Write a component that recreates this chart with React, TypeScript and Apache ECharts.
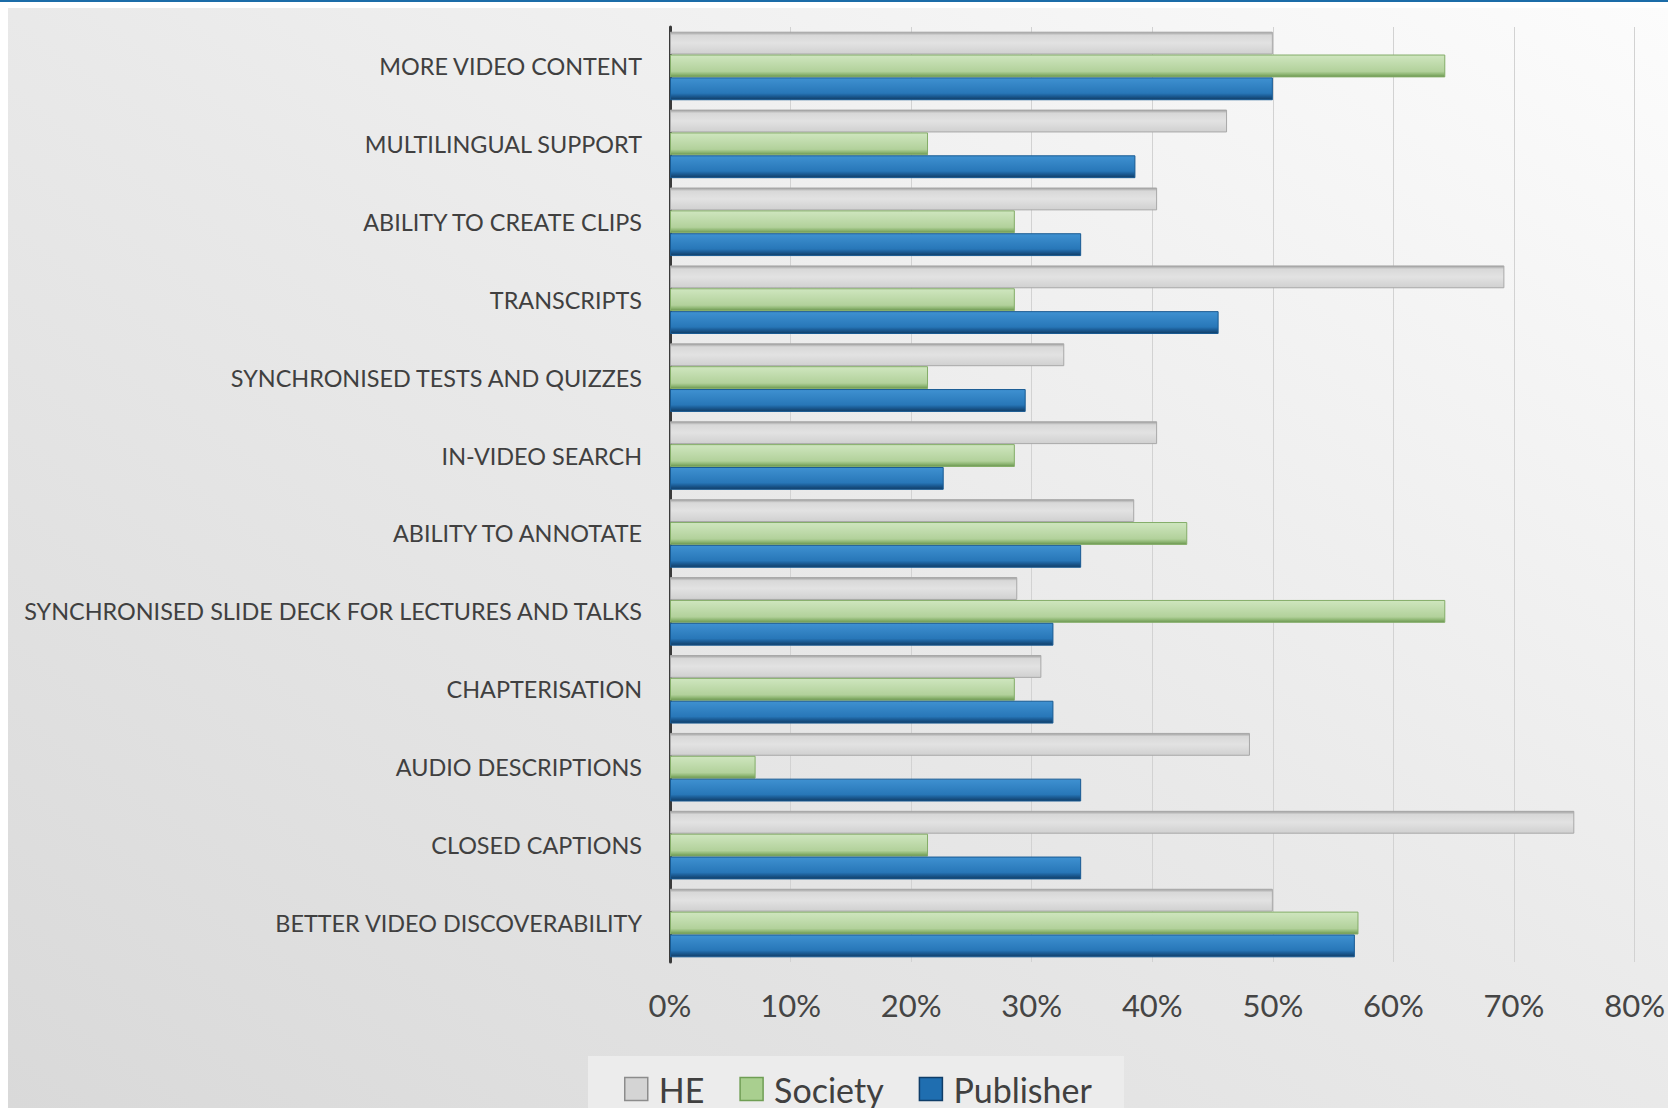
import React, { useEffect, useRef } from "react";
import * as echarts from "echarts";

const categories = [
  "MORE VIDEO CONTENT",
  "MULTILINGUAL SUPPORT",
  "ABILITY TO CREATE CLIPS",
  "TRANSCRIPTS",
  "SYNCHRONISED TESTS AND QUIZZES",
  "IN-VIDEO SEARCH",
  "ABILITY TO ANNOTATE",
  "SYNCHRONISED SLIDE DECK FOR LECTURES AND TALKS",
  "CHAPTERISATION",
  "AUDIO DESCRIPTIONS",
  "CLOSED CAPTIONS",
  "BETTER VIDEO DISCOVERABILITY",
];

const heValues = [50.0, 46.2, 40.4, 69.2, 32.7, 40.4, 38.5, 28.8, 30.8, 48.1, 75.0, 50.0];
const societyValues = [64.3, 21.4, 28.6, 28.6, 21.4, 28.6, 42.9, 64.3, 28.6, 7.1, 21.4, 57.1];
const publisherValues = [50.0, 38.6, 34.1, 45.5, 29.5, 22.7, 34.1, 31.8, 31.8, 34.1, 34.1, 56.8];

const xTicks = { min: 0, max: 80, interval: 10 };

const FONT = "Lato, 'Open Sans', sans-serif";

function vGrad(stops: [number, string][]) {
  return new echarts.graphic.LinearGradient(
    0,
    0,
    0,
    1,
    stops.map(([offset, color]) => ({ offset, color }))
  );
}

export default function App() {
  const ref = useRef<HTMLDivElement>(null);

  useEffect(() => {
    if (!ref.current) return;
    const chart = echarts.init(ref.current, null, { renderer: "svg" });

    const heStyle = {
      color: vGrad([
        [0, "#9e9e9e"],
        [0.14, "#d8d8d8"],
        [0.5, "#e2e2e2"],
        [1, "#d0d0d0"],
      ]),
      borderColor: "#a8a8a8",
      borderWidth: 1,
    };
    const socStyle = {
      color: vGrad([
        [0, "#cfe6bf"],
        [0.75, "#b2d19b"],
        [0.88, "#8fb774"],
        [1, "#6a944f"],
      ]),
      borderColor: "#84ad68",
      borderWidth: 1,
    };
    const pubStyle = {
      color: vGrad([
        [0, "#3f91d1"],
        [0.7, "#2877b8"],
        [0.82, "#1c5e98"],
        [1, "#113d66"],
      ]),
      borderColor: "#185a92",
      borderWidth: 1,
    };

    chart.setOption({
      animation: false,
      backgroundColor: "#ffffff",
      graphic: [
        {
          type: "rect",
          z: -100,
          silent: true,
          shape: { x: 0, y: 0, width: 1668, height: 2 },
          style: { fill: "#1b6ca8" },
        },
        {
          type: "rect",
          z: -100,
          silent: true,
          shape: { x: 8, y: 8, width: 1660, height: 1100 },
          style: {
            fill: new echarts.graphic.LinearGradient(1, 0, 0, 1, [
              { offset: 0, color: "#fcfcfc" },
              { offset: 0.5, color: "#e9e9e9" },
              { offset: 1, color: "#d9d9d9" },
            ]),
          },
        },
        {
          type: "rect",
          z: -99,
          silent: true,
          shape: { x: 588, y: 1056, width: 536, height: 60 },
          style: { fill: "#ececec" },
        },
      ],
      grid: { left: 670, right: 30, top: 27, bottom: 146, containLabel: false },
      legend: {
        left: 619,
        top: 1066,
        itemWidth: 23,
        itemHeight: 23,
        itemGap: 35,
        icon: "rect",
        textStyle: {
          fontFamily: FONT,
          fontSize: 34,
          color: "#404040",
          lineHeight: 36,
          padding: [0, 0, 0, 6],
        },
        data: [
          { name: "HE", itemStyle: { color: "#d4d4d4", borderColor: "#8c8c8c", borderWidth: 1.5 } },
          { name: "Society", itemStyle: { color: "#a9cf8f", borderColor: "#6f9e54", borderWidth: 1.5 } },
          { name: "Publisher", itemStyle: { color: "#1f6eb0", borderColor: "#0f3d68", borderWidth: 1.5 } },
        ],
      },
      xAxis: {
        type: "value",
        min: xTicks.min,
        max: xTicks.max,
        interval: xTicks.interval,
        axisLine: { show: false },
        axisTick: { show: false },
        splitLine: { show: true, lineStyle: { color: "#d2d2d2", width: 1 } },
        axisLabel: {
          formatter: "{value}%",
          fontFamily: FONT,
          fontSize: 31,
          color: "#454545",
          margin: 27,
        },
      },
      yAxis: {
        type: "category",
        data: categories,
        inverse: true,
        axisLine: { show: true, lineStyle: { color: "#3a3a3a", width: 3 } },
        axisTick: { show: false },
        splitLine: { show: false },
        axisLabel: {
          fontFamily: FONT,
          fontSize: 23.4,
          color: "#404040",
          margin: 28,
        },
      },
      series: [
        {
          name: "HE",
          type: "bar",
          data: heValues,
          barGap: "0%",
          barCategoryGap: "12%",
          itemStyle: heStyle,
        },
        {
          name: "Society",
          type: "bar",
          data: societyValues,
          barGap: "0%",
          barCategoryGap: "12%",
          itemStyle: socStyle,
        },
        {
          name: "Publisher",
          type: "bar",
          data: publisherValues,
          barGap: "0%",
          barCategoryGap: "12%",
          itemStyle: pubStyle,
        },
      ],
    });

    return () => chart.dispose();
  }, []);

  return (
    <div
      ref={ref}
      style={{ position: "fixed", left: 0, top: 0, width: 1668, height: 1108 }}
    />
  );
}
